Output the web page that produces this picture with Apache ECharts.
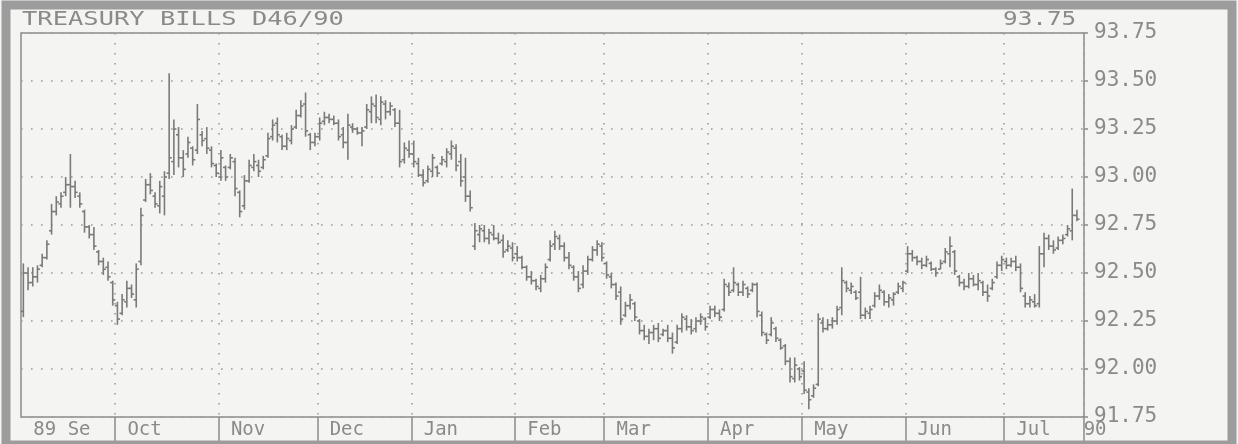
<!DOCTYPE html>
<html>
<head>
<meta charset="utf-8">
<script src="https://cdn.jsdelivr.net/npm/echarts@6/dist/echarts.min.js"></script>
<style>
html,body{margin:0;padding:0;background:#f4f4f2;}
#chart{width:1238px;height:444px;}
</style>
</head>
<body>
<div id="chart"></div>
<script>
const titleText = 'TREASURY BILLS D46/90';
const topValueLabel = '93.75';
const monthLabels = ['89 Se','Oct','Nov','Dec','Jan','Feb','Mar','Apr','May','Jun','Jul'];
const monthDays = [20,22,21,20,22,19,22,20,22,21,17];
const endLabel = '90';
const yMin = 91.75, yMax = 93.75, yStep = 0.25;

const opens = [
92.30,92.50,92.45,92.48,92.54,92.58,92.72,92.82,92.86,92.92,92.96,92.95,92.90,92.82,92.74,92.70,92.61,92.56,92.53,92.45,
92.33,92.29,92.35,92.42,92.36,92.56,92.88,92.96,92.90,92.85,92.90,93.02,93.08,93.22,93.10,93.12,93.15,93.14,93.22,93.20,93.14,93.06,
93.00,93.05,93.05,93.08,92.92,92.85,92.98,93.05,93.06,93.05,93.11,93.21,93.28,93.21,93.16,93.19,93.26,93.32,93.38,93.22,93.18,
93.21,93.29,93.31,93.30,93.28,93.22,93.18,93.26,93.25,93.23,93.26,93.34,93.37,93.30,93.38,93.34,93.35,93.28,93.09,93.14,
93.12,93.07,93.01,92.98,93.03,93.05,93.07,93.08,93.12,93.15,93.08,93.00,92.90,92.64,92.70,92.72,92.68,92.70,92.68,92.67,92.62,92.63,
92.60,92.58,92.53,92.48,92.46,92.42,92.47,92.57,92.65,92.68,92.64,92.58,92.53,92.48,92.44,92.51,92.57,92.62,92.64,
92.55,92.48,92.44,92.40,92.28,92.33,92.34,92.25,92.20,92.17,92.19,92.21,92.18,92.20,92.16,92.14,92.21,92.26,92.22,92.21,92.25,92.26,
92.27,92.31,92.29,92.31,92.43,92.41,92.44,92.40,92.42,92.41,92.44,92.28,92.18,92.18,92.21,92.15,92.12,92.04,91.95,92.00,
91.99,91.88,91.86,91.92,92.24,92.21,92.23,92.25,92.32,92.45,92.41,92.40,92.40,92.28,92.29,92.33,92.38,92.40,92.35,92.36,92.40,92.42,
92.51,92.60,92.58,92.56,92.54,92.55,92.52,92.52,92.56,92.60,92.61,92.48,92.45,92.43,92.47,92.44,92.45,92.40,92.42,92.48,92.54,
92.56,92.54,92.56,92.53,92.38,92.34,92.35,92.34,92.60,92.68,92.64,92.63,92.67,92.70,92.72,92.80
];
const highs = [
92.55,92.53,92.53,92.54,92.60,92.67,92.86,92.90,92.92,93.00,93.12,92.98,92.92,92.83,92.75,92.74,92.62,92.58,92.56,92.46,
92.35,92.39,92.46,92.44,92.55,92.84,92.99,93.02,92.92,92.98,93.03,93.54,93.30,93.26,93.14,93.21,93.16,93.38,93.24,93.26,93.16,93.07,
93.14,93.06,93.12,93.10,92.93,93.01,93.09,93.12,93.09,93.11,93.23,93.30,93.31,93.22,93.23,93.27,93.35,93.40,93.44,93.23,93.23,
93.31,93.34,93.33,93.32,93.30,93.26,93.33,93.28,93.26,93.26,93.38,93.42,93.43,93.42,93.40,93.39,93.36,93.35,93.18,93.19,
93.19,93.10,93.04,93.06,93.12,93.06,93.11,93.15,93.19,93.17,93.12,93.10,92.93,92.76,92.75,92.75,92.73,92.75,92.71,92.70,92.67,92.66,
92.64,92.59,92.54,92.51,92.47,92.49,92.55,92.67,92.72,92.70,92.66,92.61,92.54,92.51,92.54,92.59,92.64,92.67,92.66,
92.56,92.50,92.45,92.43,92.35,92.39,92.35,92.26,92.23,92.21,92.23,92.24,92.21,92.23,92.19,92.23,92.29,92.28,92.26,92.27,92.29,92.27,
92.33,92.33,92.31,92.47,92.45,92.53,92.45,92.46,92.43,92.45,92.45,92.30,92.19,92.27,92.22,92.16,92.13,92.06,92.06,92.01,
92.04,91.90,91.92,92.29,92.27,92.26,92.27,92.33,92.53,92.46,92.45,92.41,92.48,92.32,92.33,92.40,92.44,92.41,92.39,92.40,92.45,92.46,
92.64,92.62,92.59,92.58,92.59,92.56,92.53,92.57,92.63,92.69,92.62,92.49,92.47,92.50,92.49,92.50,92.46,92.44,92.47,92.56,92.59,
92.58,92.58,92.59,92.55,92.40,92.38,92.39,92.64,92.71,92.70,92.67,92.69,92.70,92.75,92.94,92.83
];
const lows = [
92.27,92.41,92.43,92.45,92.53,92.57,92.70,92.80,92.84,92.90,92.84,92.89,92.84,92.71,92.68,92.62,92.54,92.49,92.46,92.33,
92.23,92.28,92.32,92.37,92.32,92.54,92.87,92.91,92.84,92.81,92.80,92.99,93.01,93.05,93.00,93.10,93.06,93.12,93.16,93.12,93.05,93.00,
92.98,92.98,93.04,92.90,92.79,92.83,92.97,93.03,93.00,93.04,93.10,93.19,93.18,93.14,93.14,93.17,93.25,93.31,93.21,93.14,93.16,
93.19,93.27,93.28,93.27,93.19,93.15,93.09,93.23,93.22,93.16,93.25,93.28,93.28,93.27,93.30,93.32,93.26,93.05,93.07,93.10,
93.05,93.00,92.95,92.97,93.00,93.00,93.06,93.05,93.09,93.03,92.95,92.87,92.82,92.62,92.66,92.66,92.65,92.67,92.65,92.58,92.61,92.56,
92.56,92.52,92.46,92.44,92.41,92.40,92.45,92.56,92.62,92.62,92.56,92.52,92.46,92.40,92.42,92.49,92.56,92.59,92.56,
92.47,92.42,92.36,92.23,92.27,92.31,92.25,92.18,92.15,92.13,92.15,92.14,92.17,92.14,92.08,92.13,92.19,92.20,92.18,92.19,92.23,92.20,
92.26,92.27,92.25,92.30,92.38,92.40,92.38,92.38,92.37,92.40,92.27,92.17,92.13,92.17,92.14,92.10,92.02,91.93,91.93,91.94,
91.87,91.79,91.85,91.91,92.19,92.20,92.21,92.23,92.28,92.40,92.39,92.36,92.26,92.26,92.26,92.32,92.36,92.33,92.32,92.33,92.39,92.40,
92.50,92.56,92.54,92.52,92.53,92.51,92.48,92.52,92.55,92.53,92.49,92.43,92.41,92.42,92.43,92.41,92.38,92.35,92.41,92.47,92.51,
92.52,92.53,92.51,92.40,92.32,92.32,92.32,92.32,92.53,92.62,92.60,92.62,92.65,92.69,92.67,92.77
];
const closes = [
92.50,92.45,92.48,92.52,92.58,92.65,92.82,92.87,92.90,92.96,92.95,92.92,92.86,92.74,92.70,92.64,92.56,92.52,92.48,92.36,
92.26,92.36,92.42,92.39,92.52,92.80,92.96,92.93,92.86,92.95,93.00,93.10,93.25,93.10,93.04,93.18,93.09,93.30,93.19,93.15,93.07,93.02,
93.10,93.00,93.10,92.94,92.82,92.98,93.06,93.08,93.03,93.09,93.20,93.27,93.22,93.16,93.20,93.25,93.32,93.37,93.24,93.18,93.21,
93.28,93.31,93.30,93.28,93.21,93.18,93.27,93.25,93.23,93.24,93.35,93.38,93.31,93.39,93.34,93.37,93.28,93.08,93.15,93.12,
93.08,93.01,92.97,93.04,93.10,93.02,93.09,93.13,93.16,93.06,92.98,92.90,92.84,92.72,92.73,92.68,92.71,92.68,92.66,92.61,92.64,92.58,
92.58,92.53,92.48,92.46,92.43,92.47,92.53,92.64,92.69,92.64,92.58,92.54,92.48,92.42,92.51,92.57,92.62,92.65,92.58,
92.49,92.44,92.38,92.26,92.33,92.36,92.27,92.20,92.17,92.19,92.21,92.16,92.20,92.16,92.11,92.21,92.27,92.22,92.20,92.25,92.27,92.22,
92.31,92.29,92.27,92.44,92.40,92.45,92.40,92.44,92.39,92.44,92.30,92.19,92.15,92.24,92.16,92.11,92.04,91.96,92.02,91.96,
91.89,91.84,91.90,92.26,92.21,92.23,92.25,92.31,92.46,92.42,92.43,92.37,92.28,92.30,92.31,92.38,92.41,92.35,92.37,92.39,92.43,92.45,
92.60,92.58,92.56,92.54,92.57,92.52,92.50,92.55,92.61,92.64,92.51,92.45,92.43,92.47,92.44,92.46,92.40,92.38,92.45,92.54,92.57,
92.54,92.56,92.53,92.42,92.34,92.36,92.33,92.60,92.68,92.64,92.62,92.67,92.68,92.73,92.80,92.78
];

// categories: one per trading day, grouped by month
const categories = [];
const monthStart = {};
monthLabels.forEach(function (m, mi) {
  monthStart[categories.length] = m;
  for (let d = 0; d < monthDays[mi]; d++) categories.push(m + ' ' + (d + 1));
});
const lastIndex = categories.length - 1;

const ohlc = opens.map(function (o, i) { return [i, o, highs[i], lows[i], closes[i]]; });

const GRAY = '#8a8a8a';
const BAR = '#7a7a7a';
const MONO = '"DejaVu Sans Mono", "Liberation Mono", monospace';

const chart = echarts.init(document.getElementById('chart'), null, { renderer: 'canvas' });
chart.setOption({
  animation: false,
  backgroundColor: '#f4f4f2',
  grid: { left: 21, right: 154, top: 33, bottom: 27, show: true, borderColor: GRAY, borderWidth: 1.5 },
  graphic: [
    { type: 'rect', shape: { x: 6, y: 5, width: 1226, height: 440 }, style: { fill: 'none', stroke: '#9c9c9c', lineWidth: 9 }, z: 100 },
    { type: 'text', x: 22, y: 11, scaleX: 1.34, style: { text: titleText, font: '19px ' + MONO, fill: GRAY, verticalAlign: 'top' }, z: 101 },
    { type: 'text', x: 1003, y: 11, scaleX: 1.28, style: { text: topValueLabel, font: '19px ' + MONO, fill: GRAY, verticalAlign: 'top' }, z: 101 }
  ],
  xAxis: {
    type: 'category',
    data: categories,
    boundaryGap: true,
    axisLine: { show: false },
    axisTick: {
      show: true, length: 27, inside: false,
      interval: function (i) { return i > 0 && monthStart[i] !== undefined; },
      lineStyle: { color: GRAY, width: 1.5 }
    },
    axisLabel: {
      margin: 4,
      interval: function (i) { return monthStart[i] !== undefined || i === lastIndex; },
      formatter: function (v, i) {
        if (i === lastIndex) return '{e|' + endLabel + '}';
        return '{m|' + monthStart[i] + '}';
      },
      align: 'left',
      rich: {
        m: { fontFamily: MONO, fontSize: 19, color: GRAY, padding: [0, 0, 0, 10] },
        e: { fontFamily: MONO, fontSize: 19, color: GRAY, padding: [0, 0, 0, 2] }
      }
    },
    splitLine: {
      show: true,
      interval: function (i) { return i > 0 && monthStart[i] !== undefined; },
      lineStyle: { color: '#9a9a9a', width: 1.6, type: [1.6, 8.4] }
    }
  },
  yAxis: {
    type: 'value',
    position: 'right',
    min: yMin, max: yMax, interval: yStep,
    axisLine: { show: false },
    axisTick: { show: true, length: 4, lineStyle: { color: GRAY, width: 1.5 } },
    axisLabel: {
      margin: 10,
      fontFamily: MONO, fontSize: 21, color: GRAY,
      formatter: function (v) { return v.toFixed(2); }
    },
    splitLine: { show: true, lineStyle: { color: '#9a9a9a', width: 1.6, type: [1.6, 8.4] } }
  },
  series: [{
    type: 'custom',
    data: ohlc,
    encode: { x: 0, y: [1, 2, 3, 4] },
    renderItem: function (params, api) {
      const i = api.value(0);
      const pO = api.coord([i, api.value(1)]);
      const pH = api.coord([i, api.value(2)]);
      const pL = api.coord([i, api.value(3)]);
      const pC = api.coord([i, api.value(4)]);
      const w = api.size([1, 0])[0] * 0.55;
      const x = pH[0];
      const st = { stroke: BAR, lineWidth: 1.6 };
      return {
        type: 'group',
        children: [
          { type: 'line', shape: { x1: x, y1: pH[1], x2: x, y2: pL[1] }, style: st },
          { type: 'line', shape: { x1: x - w, y1: pO[1], x2: x, y2: pO[1] }, style: st },
          { type: 'line', shape: { x1: x, y1: pC[1], x2: x + w, y2: pC[1] }, style: st }
        ]
      };
    }
  }]
});
</script>
</body>
</html>
